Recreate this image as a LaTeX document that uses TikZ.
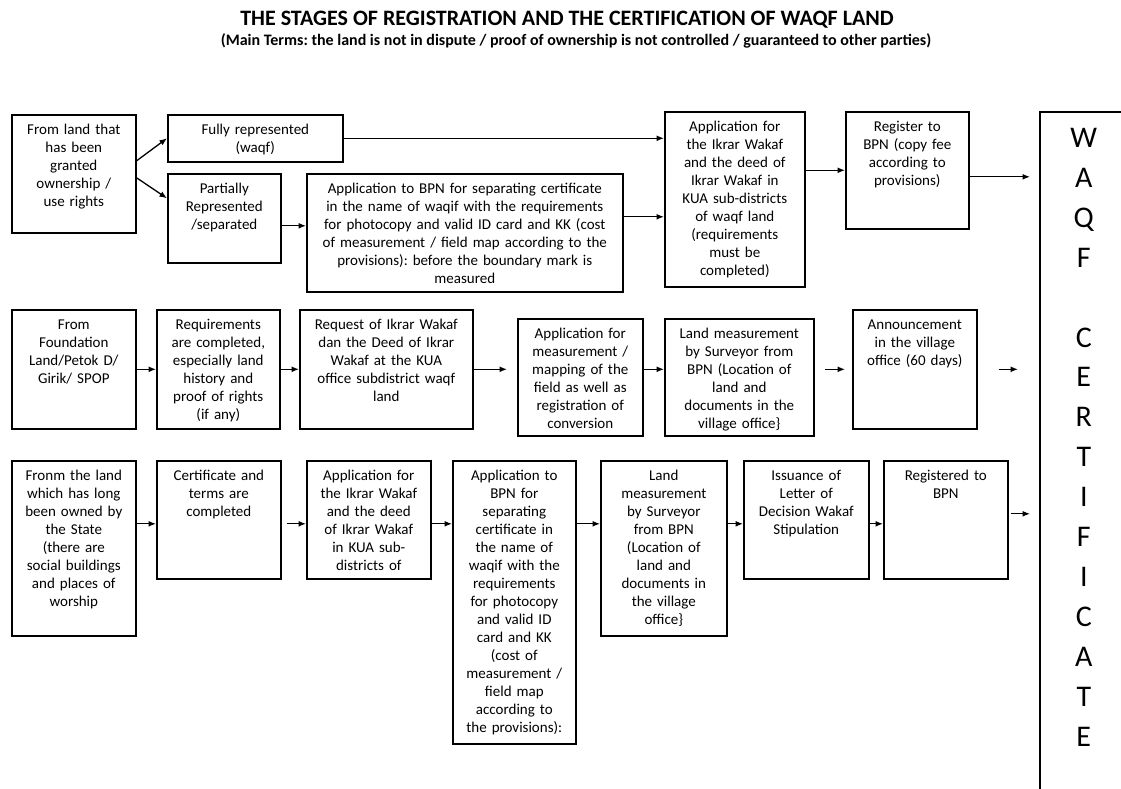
\documentclass[tikz,border=0pt]{standalone}
\usepackage{fontspec}
\setmainfont{Carlito}
\usepackage{tikz}
\usetikzlibrary{arrows.meta}
\frenchspacing
\newcommand{\stagefont}{\fontsize{15}{18}\selectfont}
\newcommand{\certfont}{\fontsize{30}{39.9}\selectfont}

\begin{document}
\begin{tikzpicture}[x=1pt, y=-1pt,
    stage/.style={draw, line width=1.6pt, anchor=north west, inner sep=4pt,
      align=center, font=\stagefont, text height=16pt},
    certbox/.style={draw, line width=1.6pt, anchor=north west, inner sep=0pt,
      align=center, font=\certfont, text width=88pt, text height=35.7pt, text depth=720pt},
    arr/.style={-{Latex[length=7.5pt,width=6pt]}, line width=1.3pt}]
    \clip (0,0) rectangle (1121,789);
    % 标题
    \node[font=\bfseries\fontsize{22}{26}\selectfont] (title) at (567,20)
        {THE STAGES OF REGISTRATION AND THE CERTIFICATION OF WAQF LAND};
    \node[font=\bfseries\fontsize{16}{19}\selectfont] (subtitle) at (576,41)
        {(Main Terms: the land is not in dispute / proof of ownership is not controlled / guaranteed to other parties)};

    % 第一行
    \node[stage, text width=116pt, text depth=94pt] (land1) at (11,114)
        {From land that\\has been\\granted\\ownership /\\use rights};
    \node[stage, text width=167pt, text depth=23pt] (fully) at (167,114)
        {Fully represented\\(waqf)};
    \node[stage, text width=105pt, text depth=65pt] (partial) at (167,173)
        {Partially\\Represented\\/separated};
    \node[stage, text width=308pt, text depth=94pt] (appsep) at (306,173)
        {Application to BPN for separating certificate\\in the name of waqif with the requirements\\for photocopy and valid ID card and KK (cost\\of measurement / field map according to the\\provisions): before the boundary mark is\\measured};
    \node[stage, text width=132pt, text depth=151pt] (ikrar1) at (664,111)
        {Application for\\the Ikrar Wakaf\\and the deed of\\Ikrar Wakaf in\\KUA sub-districts\\of waqf land\\(requirements\\must be\\completed)};
    \node[stage, text width=115pt, text depth=93pt] (reg1) at (845,111)
        {Register to\\BPN (copy fee\\according to\\provisions)};
    \node[certbox] (cert) at (1039,111)
        {W\\A\\Q\\F\\[39.9pt]C\\E\\R\\T\\I\\F\\I\\C\\A\\T\\E};

    \draw[arr] ([yshift=13pt]land1.east) -- (fully.west);
    \draw[arr] ([yshift=-4pt]land1.east) -- ([yshift=20pt]partial.west);
    \draw[arr] (fully.east) -- (fully.east -| ikrar1.west);
    \coordinate (p1) at ([yshift=-7.5pt]partial.east);
    \draw[arr] (p1) -- (p1 -| appsep.west);
    \coordinate (p2) at ([yshift=16pt]appsep.east);
    \draw[arr] (p2) -- (p2 -| ikrar1.west);
    \draw[arr] (reg1.west -| ikrar1.east) -- (reg1.west);
    \coordinate (p3) at ([yshift=-6.5pt]reg1.east);
    \draw[arr, shorten >=9pt] (p3) -- (p3 -| cert.west);

    % 第二行
    \node[stage, text width=116pt, text depth=95pt] (found) at (11,309)
        {From\\Foundation\\Land/Petok D/\\Girik/ SPOP};
    \node[stage, text width=115pt, text depth=95pt] (req) at (156,309)
        {Requirements\\are completed,\\especially land\\history and\\proof of rights\\(if any)};
    \node[stage, text width=165pt, text depth=95pt] (request) at (299,309)
        {Request of Ikrar Wakaf\\dan the Deed of Ikrar\\Wakaf at the KUA\\office subdistrict waqf\\land};
    \node[stage, text width=117pt, text depth=93pt] (appmeas) at (517,318)
        {Application for\\measurement /\\mapping of the\\field as well as\\registration of\\conversion};
    \node[stage, text width=141pt, text depth=93pt] (landm2) at (664,318)
        {Land measurement\\by Surveyor from\\BPN (Location of\\land and\\documents in the\\village office\}};
    \node[stage, text width=116pt, text depth=95pt] (announce) at (852,309)
        {Announcement\\in the village\\office (60 days)};

    \draw[arr] (found) -- (req);
    \draw[arr] (req) -- (request);
    \draw[arr, shorten >=10pt] (request.east) -- (request.east -| appmeas.west);
    \draw[arr] (appmeas.east |- req.east) -- (landm2.west |- req.east);
    \draw[arr, shorten <=10pt, shorten >=7pt] (landm2.east |- announce.west) -- (announce.west);
    \draw[arr, shorten <=21pt, shorten >=21pt] (announce.east) -- (announce.east -| cert.west);

    % 第三行
    \node[stage, text width=116pt, text depth=151pt] (land3) at (11,460)
        {Fronm the land\\which has long\\been owned by\\the State\\(there are\\social buildings\\and places of\\worship};
    \node[stage, text width=116pt, text depth=94pt] (cert3) at (156,460)
        {Certificate and\\terms are\\completed};
    \node[stage, text width=116pt, text depth=94pt] (app3) at (306,460)
        {Application for\\the Ikrar Wakaf\\and the deed\\of Ikrar Wakaf\\in KUA sub-\\districts of};
    \node[stage, text width=115pt, text depth=259pt] (sep3) at (452,460)
        {Application to\\BPN for\\separating\\certificate in\\the name of\\waqif with the\\requirements\\for photocopy\\and valid ID\\card and KK\\(cost of\\measurement /\\field map\\according to\\the provisions):};
    \node[stage, text width=118pt, text depth=151pt] (landm3) at (600,460)
        {Land\\measurement\\by Surveyor\\from BPN\\(Location of\\land and\\documents in\\the village\\office\}};
    \node[stage, text width=117pt, text depth=94pt] (issue) at (743,460)
        {Issuance of\\Letter of\\Decision Wakaf\\Stipulation};
    \node[stage, text width=116pt, text depth=94pt] (regd) at (883,460)
        {Registered to\\BPN};

    \coordinate (r3) at ([yshift=-4pt]cert3.east);
    \draw[arr] (land3.east |- r3) -- (cert3.west |- r3);
    \draw[arr, shorten <=5pt] (r3) -- (app3.west |- r3);
    \draw[arr] (app3.east |- r3) -- (sep3.west |- r3);
    \draw[arr] (sep3.east |- r3) -- (landm3.west |- r3);
    \draw[arr] (landm3.east |- r3) -- (issue.west |- r3);
    \draw[arr] (issue.east |- r3) -- (regd.west |- r3);
    \coordinate (r4) at ([yshift=6pt]regd.east);
    \draw[arr, shorten <=2pt, shorten >=9pt] (r4) -- (r4 -| cert.west);
\end{tikzpicture}
\end{document}
